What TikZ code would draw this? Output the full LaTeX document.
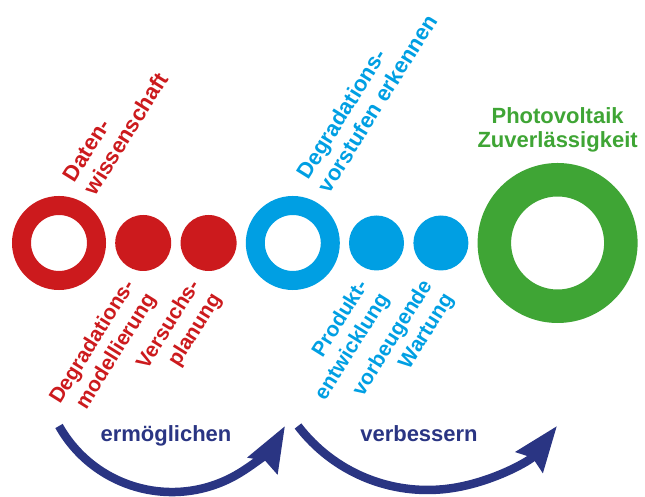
\documentclass[tikz,border=0pt]{standalone}
\usepackage{fontspec}
\setmainfont{Liberation Sans}
\usepackage{xcolor}
\usepackage{tikz}
\usetikzlibrary{positioning,calc,arrows.meta}

\definecolor{pvred}{HTML}{CC1A1D}
\definecolor{pvblue}{HTML}{009FE3}
\definecolor{pvgreen}{HTML}{3FA535}
\definecolor{pvnavy}{HTML}{2A3583}

\begin{document}
\begin{tikzpicture}[x=1pt, y=1pt, node distance=9pt,
    ring/.style={circle, draw, line width=19pt, minimum size=75pt, inner sep=0pt},
    dot/.style={circle, fill, minimum size=56pt, inner sep=0pt},
    toptext/.style={rotate=58, anchor=south west, align=left, inner sep=0pt, font=\bfseries\fontsize{22}{25}\selectfont},
    bottext/.style={rotate=58, anchor=north east, align=right, inner sep=0pt, font=\bfseries\fontsize{21}{25}\selectfont},
    arcarrow/.style={draw=pvnavy, line width=8.5pt, -{Stealth[length=45pt, width=33pt, inset=5pt]}}]

    \useasboundingbox (0,0) rectangle (645,497);

    % circles
    \node (datRing) [ring, draw=pvred] at (59,254) {};
    \node (modDot) [dot, fill=pvred, right=of datRing] {};
    \node (versDot) [dot, fill=pvred, right=of modDot] {};
    \node (erkRing) [ring, draw=pvblue, right=of versDot] {};
    \node (prodDot) [dot, fill=pvblue, minimum size=55pt, right=of erkRing] {};
    \node (wartDot) [dot, fill=pvblue, minimum size=55pt, right=of prodDot] {};
    \node (pvRing) [ring, draw=pvgreen, line width=33.5pt, minimum size=126.5pt, right=of wartDot] {};

    % labels
    \node (datText) [toptext, text=pvred] at ($(datRing.center)+(58:59pt)+(-32:7pt)$) {Daten-\\wissenschaft};
    \node (erkText) [toptext, text=pvblue] at ($(erkRing.center)+(58:61pt)+(-32:6pt)$) {Degradations-\\vorstufen erkennen};
    \node (modText) [bottext, text=pvred] at ($(modDot.center)+(238:40pt)$) {Degradations-\\modellierung};
    \node (versText) [bottext, text=pvred] at ($(versDot.center)+(238:40pt)$) {Versuchs-\\planung};
    \node (prodText) [bottext, text=pvblue] at ($(prodDot.center)+(238:40pt)$) {Produkt-\\entwicklung};
    \node (wartText) [bottext, text=pvblue] at ($(wartDot.center)+(238:40pt)$) {vorbeugende\\Wartung};
    \node (pvText) [above=11pt of pvRing, align=center, inner sep=0pt, text=pvgreen, font=\bfseries\fontsize{22}{24}\selectfont] {Photovoltaik\\Zuverlässigkeit};

    % arrows
    \coordinate (enStart) at (59,71);
    \coordinate (vbStart) at (298,71);
    \draw [arcarrow] (enStart) arc[start angle=209.4, end angle=330.6, radius=129.7pt];
    \draw [arcarrow] (vbStart) arc[start angle=217.4, end angle=322.6, radius=163pt];
    \node (enText) [anchor=base, text=pvnavy, font=\bfseries\fontsize{22}{25}\selectfont] at (166,55) {ermöglichen};
    \node (vbText) [anchor=base, text=pvnavy, font=\bfseries\fontsize{22}{25}\selectfont] at (419,55) {verbessern};
\end{tikzpicture}
\end{document}
